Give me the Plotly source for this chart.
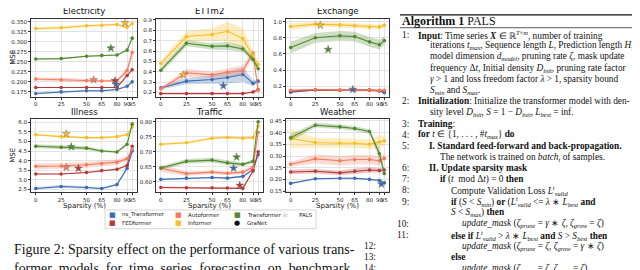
import plotly.graph_objects as go

W, H = 640, 270

# ---------------- data ----------------
sparsity = [0, 25, 50, 65, 80, 90, 95]
sparsity_ticks = ["0", "25", "50", "65", "80", "90", "95"]
models = ["ns_Transformer", "FEDformer", "Autoformer", "Informer", "Transformer"]
colors = {"ns_Transformer": "#3b6db5", "FEDformer": "#b83a36", "Autoformer": "#f87a5c",
          "Informer": "#fbbd22", "Transformer": "#4f8a2c"}

electricity_mean = {
    "ns_Transformer": [0.171, 0.175, 0.178, 0.178, 0.181, 0.189, 0.200],
    "FEDformer": [0.186, 0.186, 0.186, 0.186, 0.186, 0.216, 0.230],
    "Autoformer": [0.207, 0.205, 0.203, 0.202, 0.203, 0.228, 0.273],
    "Informer": [0.333, 0.335, 0.340, 0.341, 0.343, 0.336, 0.345],
    "Transformer": [0.257, 0.258, 0.264, 0.266, 0.267, 0.279, 0.309]}
electricity_std = {
    "ns_Transformer": [0.002, 0.003, 0.002, 0.002, 0.002, 0.002, 0.003],
    "FEDformer": [0.001, 0.001, 0.001, 0.001, 0.001, 0.002, 0.002],
    "Autoformer": [0.003, 0.005, 0.004, 0.003, 0.003, 0.008, 0.012],
    "Informer": [0.003, 0.004, 0.003, 0.002, 0.003, 0.004, 0.003],
    "Transformer": [0.002, 0.002, 0.002, 0.002, 0.002, 0.003, 0.003]}

ettm2_mean = {
    "ns_Transformer": [0.245, 0.31, 0.325, 0.345, 0.375, 0.29, 0.31],
    "FEDformer": [0.19, 0.19, 0.19, 0.19, 0.19, 0.205, 0.23],
    "Autoformer": [0.235, 0.39, 0.37, 0.395, 0.41, 0.58, 0.22],
    "Informer": [0.48, 0.74, 0.76, 0.79, 0.72, 0.56, 0.47],
    "Transformer": [0.415, 0.675, 0.645, 0.65, 0.62, 0.52, 0.43]}
ettm2_std = {
    "ns_Transformer": [0.015, 0.03, 0.04, 0.06, 0.07, 0.03, 0.02],
    "FEDformer": [0.005, 0.005, 0.005, 0.005, 0.005, 0.01, 0.01],
    "Autoformer": [0.015, 0.04, 0.03, 0.04, 0.05, 0.03, 0.02],
    "Informer": [0.03, 0.05, 0.06, 0.09, 0.1, 0.05, 0.03],
    "Transformer": [0.03, 0.03, 0.03, 0.04, 0.03, 0.03, 0.02]}

exchange_mean = {
    "ns_Transformer": [0.125, 0.155, 0.15, 0.15, 0.155, 0.14, 0.12],
    "FEDformer": [0.14, 0.155, 0.15, 0.15, 0.15, 0.145, 0.145],
    "Autoformer": [0.15, 0.16, 0.155, 0.155, 0.155, 0.15, 0.15],
    "Informer": [0.94, 0.97, 0.96, 0.95, 0.935, 0.935, 0.955],
    "Transformer": [0.68, 0.80, 0.825, 0.815, 0.75, 0.715, 0.765]}
exchange_std = {
    "ns_Transformer": [0.01, 0.01, 0.01, 0.01, 0.01, 0.01, 0.01],
    "FEDformer": [0.01, 0.01, 0.01, 0.01, 0.01, 0.01, 0.01],
    "Autoformer": [0.01, 0.01, 0.01, 0.01, 0.01, 0.01, 0.01],
    "Informer": [0.04, 0.03, 0.03, 0.03, 0.03, 0.03, 0.03],
    "Transformer": [0.07, 0.06, 0.06, 0.06, 0.06, 0.06, 0.05]}

illness_mean = {
    "ns_Transformer": [2.55, 2.65, 2.6, 2.55, 2.75, 3.6, 4.5],
    "FEDformer": [3.3, 3.3, 3.38, 3.48, 3.55, 3.75, 4.75],
    "Autoformer": [3.7, 3.72, 3.78, 3.85, 3.92, 4.1, 4.6],
    "Informer": [5.35, 5.25, 5.2, 5.2, 5.25, 5.35, 5.75],
    "Transformer": [4.75, 4.7, 4.65, 4.5, 4.45, 4.85, 5.9]}
illness_std = {
    "ns_Transformer": [0.06, 0.08, 0.05, 0.05, 0.06, 0.1, 0.1],
    "FEDformer": [0.03, 0.03, 0.04, 0.04, 0.05, 0.06, 0.08],
    "Autoformer": [0.15, 0.15, 0.15, 0.15, 0.15, 0.12, 0.1],
    "Informer": [0.05, 0.05, 0.05, 0.05, 0.05, 0.06, 0.08],
    "Transformer": [0.1, 0.1, 0.1, 0.06, 0.05, 0.08, 0.1]}

traffic_mean = {
    "ns_Transformer": [0.608, 0.612, 0.614, 0.612, 0.618, 0.64, 0.69],
    "FEDformer": [0.581, 0.58, 0.58, 0.579, 0.578, 0.636, 0.70],
    "Autoformer": [0.645, 0.627, 0.632, 0.628, 0.632, 0.648, 0.765],
    "Informer": [0.725, 0.73, 0.745, 0.748, 0.745, 0.747, 0.785],
    "Transformer": [0.646, 0.668, 0.672, 0.663, 0.658, 0.668, 0.80]}
traffic_std = {
    "ns_Transformer": [0.003, 0.003, 0.003, 0.003, 0.003, 0.003, 0.003],
    "FEDformer": [0.003, 0.003, 0.003, 0.003, 0.003, 0.003, 0.003],
    "Autoformer": [0.012, 0.008, 0.006, 0.006, 0.006, 0.006, 0.008],
    "Informer": [0.004, 0.004, 0.004, 0.004, 0.004, 0.004, 0.004],
    "Transformer": [0.006, 0.008, 0.008, 0.008, 0.006, 0.006, 0.006]}

weather_mean = {
    "ns_Transformer": [0.183, 0.203, 0.205, 0.205, 0.2, 0.195, 0.185],
    "FEDformer": [0.232, 0.235, 0.228, 0.235, 0.24, 0.238, 0.24],
    "Autoformer": [0.265, 0.288, 0.28, 0.285, 0.285, 0.28, 0.29],
    "Informer": [0.375, 0.358, 0.355, 0.355, 0.35, 0.36, 0.365],
    "Transformer": [0.378, 0.432, 0.425, 0.418, 0.405, 0.31, 0.225]}
weather_std = {
    "ns_Transformer": [0.003, 0.003, 0.003, 0.003, 0.003, 0.003, 0.003],
    "FEDformer": [0.01, 0.01, 0.01, 0.012, 0.012, 0.01, 0.01],
    "Autoformer": [0.01, 0.02, 0.02, 0.02, 0.02, 0.02, 0.02],
    "Informer": [0.04, 0.02, 0.02, 0.02, 0.02, 0.03, 0.02],
    "Transformer": [0.015, 0.01, 0.01, 0.01, 0.01, 0.02, 0.02]}

# PALS results (stars)
pals_electricity = {"model": ["Informer", "Transformer", "Autoformer", "FEDformer", "ns_Transformer"],
                    "sparsity": [88, 74, 57, 78, 79], "mse": [0.347, 0.284, 0.205, 0.203, 0.194]}
pals_ettm2 = {"model": ["Informer", "ns_Transformer"], "sparsity": [22, 61], "mse": [0.37, 0.265]}
pals_exchange = {"model": ["Informer", "Transformer", "ns_Transformer"], "sparsity": [30, 38, 63], "mse": [0.955, 0.655, 0.16]}
pals_illness = {"model": ["Informer", "Transformer", "Autoformer", "FEDformer"], "sparsity": [30, 35, 30, 42], "mse": [5.4, 4.72, 3.65, 3.6]}
pals_traffic = {"model": ["Transformer", "ns_Transformer", "FEDformer"], "sparsity": [74, 71, 77], "mse": [0.682, 0.645, 0.588]}
pals_weather = {"model": ["ns_Transformer"], "sparsity": [92], "mse": [0.18]}

panels = [
    ("Electricity", electricity_mean, electricity_std, pals_electricity, [0.163, 0.357], [0.175, 0.2, 0.225, 0.25, 0.275, 0.3, 0.325, 0.35], ".3f"),
    ("ETTm2", ettm2_mean, ettm2_std, pals_ettm2, [0.16, 0.91], [0.2, 0.3, 0.4, 0.5, 0.6, 0.7, 0.8, 0.9], ".1f"),
    ("Exchange", exchange_mean, exchange_std, pals_exchange, [0.07, 1.035], [0.2, 0.4, 0.6, 0.8, 1.0], ".1f"),
    ("Illness", illness_mean, illness_std, pals_illness, [2.35, 6.15], [2.5, 3.0, 3.5, 4.0, 4.5, 5.0, 5.5, 6.0], ".1f"),
    ("Traffic", traffic_mean, traffic_std, pals_traffic, [0.565, 0.808], [0.6, 0.65, 0.7, 0.75, 0.8], ".2f"),
    ("Weather", weather_mean, weather_std, pals_weather, [0.145, 0.457], [0.15, 0.2, 0.25, 0.3, 0.35, 0.4, 0.45], ".2f"),
]

# ---------------- layout helpers (pixel -> paper) ----------------
def px(x):
    return x / W

def py(y):
    return 1 - y / H

col_x = [(23, 129), (148, 255), (278, 381)]
row_y = [(9, 88), (111, 185)]

def rgba(hexc, a):
    h = hexc.lstrip("#")
    return "rgba(%d,%d,%d,%.2f)" % (int(h[0:2], 16), int(h[2:4], 16), int(h[4:6], 16), a)

fig = go.Figure()
annotations = []
shapes = []
tick_font = dict(family="DejaVu Sans", size=5.5, color="#222")

for i, (title, mean, std, pals, yr, yt, fmt) in enumerate(panels):
    r, c = divmod(i, 3)
    xa = "x" if i == 0 else "x%d" % (i + 1)
    ya = "y" if i == 0 else "y%d" % (i + 1)
    for m in models:
        mu = mean[m]
        sd = std[m]
        up = [a + b for a, b in zip(mu, sd)]
        lo = [a - b for a, b in zip(mu, sd)]
        fig.add_trace(go.Scatter(x=sparsity + sparsity[::-1], y=up + lo[::-1], fill="toself",
                                 fillcolor=rgba(colors[m], 0.28), line=dict(width=0), mode="lines",
                                 hoverinfo="skip", showlegend=False, xaxis=xa, yaxis=ya))
        fig.add_trace(go.Scatter(x=sparsity, y=mu, mode="lines+markers", name=m,
                                 line=dict(color=colors[m], width=1.1),
                                 marker=dict(size=3.6, color=colors[m]),
                                 showlegend=False, xaxis=xa, yaxis=ya))
    fig.add_trace(go.Scatter(x=pals["sparsity"], y=pals["mse"], mode="markers", name="PALS",
                             marker=dict(symbol="star", size=6, color=[colors[m] for m in pals["model"]],
                                         line=dict(width=0.4, color="#666")),
                             showlegend=False, xaxis=xa, yaxis=ya))
    x0, x1 = col_x[c]
    y0, y1 = row_y[r]
    axis_common = dict(showline=True, linecolor="#333", linewidth=0.8, mirror=True,
                       showgrid=True, gridcolor="#e3e3e3", gridwidth=0.8, zeroline=False,
                       ticks="outside", ticklen=2, tickwidth=0.7, tickcolor="#333", tickfont=tick_font,
                       tickangle=0)
    fig.layout["xaxis" if i == 0 else "xaxis%d" % (i + 1)] = dict(
        domain=[px(x0), px(x1)], anchor=ya, range=[-4.75, 99.75],
        tickvals=sparsity, ticktext=sparsity_ticks, **axis_common)
    fig.layout["yaxis" if i == 0 else "yaxis%d" % (i + 1)] = dict(
        domain=[py(y1), py(y0)], anchor=xa, range=yr, tickvals=yt, tickformat=fmt, **axis_common)
    annotations.append(dict(text=title, x=px((x0 + x1) / 2), y=py(y0 - 0.5), xref="paper", yref="paper",
                            xanchor="center", yanchor="bottom", showarrow=False,
                            font=dict(family="DejaVu Sans", size=8.5, color="#111")))
    if c == 0:
        annotations.append(dict(text="MSE", x=px(5), y=py((y0 + y1) / 2), xref="paper", yref="paper",
                                textangle=-90, showarrow=False, xanchor="center", yanchor="middle",
                                font=dict(family="DejaVu Sans", size=7, color="#111")))
    if r == 1:
        annotations.append(dict(text="Sparsity (%)", x=px((x0 + x1) / 2), y=py(198.5), xref="paper", yref="paper",
                                showarrow=False, xanchor="center", yanchor="middle",
                                font=dict(family="DejaVu Sans", size=7, color="#111")))

# ---------------- legend (drawn) ----------------
shapes.append(dict(type="rect", xref="paper", yref="paper", x0=px(97), x1=px(308), y0=py(222), y1=py(203),
                   line=dict(color="#cccccc", width=0.8), fillcolor="white"))
legend_entries = [("■", colors["ns_Transformer"], "ns_Transformer", 104, 208),
                  ("■", colors["FEDformer"], "FEDformer", 104, 216.5),
                  ("■", colors["Autoformer"], "Autoformer", 170, 208),
                  ("■", colors["Informer"], "Informer", 170, 216.5),
                  ("■", colors["Transformer"], "Transformer", 229, 208),
                  ("●", "#111111", "GraNet", 229, 216.5),
                  ("☆", "#333333", "PALS", 277, 208)]
for sym, col, lab, lx, ly in legend_entries:
    annotations.append(dict(text=sym, x=px(lx), y=py(ly), xref="paper", yref="paper", showarrow=False,
                            xanchor="center", yanchor="middle", font=dict(family="DejaVu Sans", size=7, color=col)))
    annotations.append(dict(text=lab, x=px(lx + 8 if sym != "☆" else lx + 12), y=py(ly), xref="paper", yref="paper",
                            showarrow=False, xanchor="left", yanchor="middle",
                            font=dict(family="DejaVu Sans", size=5.5, color="#222")))

# ---------------- caption ----------------
serif = "Liberation Serif"
caption_lines = ["Figure 2: Sparsity effect on the performance of various trans-",
                 "former\u00a0 models\u00a0 for\u00a0 time\u00a0 series\u00a0 forecasting\u00a0 on\u00a0 benchmark"]
for k, t in enumerate(caption_lines):
    annotations.append(dict(text=t, x=px(4), y=py(243 + 19 * k), xref="paper", yref="paper", showarrow=False,
                            xanchor="left", yanchor="middle", font=dict(family=serif, size=13.9, color="#111")))

# ---------------- algorithm box ----------------
shapes.append(dict(type="line", xref="paper", yref="paper", x0=px(392), x1=px(640), y0=py(5), y1=py(5),
                   line=dict(color="#111", width=1.3)))
shapes.append(dict(type="line", xref="paper", yref="paper", x0=px(392), x1=px(640), y0=py(18), y1=py(18),
                   line=dict(color="#111", width=0.7)))
annotations.append(dict(text="<b>Algorithm 1</b> PALS", x=px(392), y=py(11.5), xref="paper", yref="paper",
                        showarrow=False, xanchor="left", yanchor="middle", font=dict(family=serif, size=12, color="#111")))

algo_size = 9.3
algo_lines = [
    ("1:", 403, 408, "<b>Input</b>: Time series <b><i>X</i></b> ∈ ℝ<sup><i>T</i>×<i>m</i></sup>, number of training"),
    ("", 403, 420, "iterations <i>t<sub>max</sub></i>, Sequence length <i>L</i>, Prediction length <i>H</i>,"),
    ("", 403, 420, "model dimension <i>d<sub>model</sub></i>, pruning rate <i>ζ</i>, mask update"),
    ("", 403, 420, "frequency Δ<i>t</i>, Initial density <i>D<sub>init</sub></i>, pruning rate factor"),
    ("", 403, 420, "<i>γ</i> > 1 and loss freedom factor <i>λ</i> > 1, sparsity bound"),
    ("", 403, 420, "<i>S<sub>min</sub></i> and <i>S<sub>max</sub></i>."),
    ("2:", 403, 408, "<b>Initialization</b>: Initialize the transformer model with den-"),
    ("", 403, 420, "sity level <i>D<sub>init</sub></i>, <i>S</i> = 1 − <i>D<sub>init</sub></i>, <i>L<sub>best</sub></i> = inf."),
    ("3:", 403, 408, "<b>Training</b>:"),
    ("4:", 403, 408, "<b>for</b> <i>t</i> ∈ {1, . . . , #<i>t<sub>max</sub></i>} <b>do</b>"),
    ("5:", 403, 419, "<b>I. Standard feed-forward and back-propagation.</b>"),
    ("", 403, 430, "The network is trained on <i>batch<sub>t</sub></i> of samples."),
    ("6:", 403, 419, "<b>II. Update sparsity mask</b>"),
    ("7:", 403, 430, "<b>if</b> (<i>t</i>  mod Δ<i>t</i>) = 0 <b>then</b>"),
    ("8:", 403, 441, "Compute Validation Loss <i>L<sup>t</sup><sub>valid</sub></i>"),
    ("9:", 403, 441, "<b>if</b> (<i>S</i> < <i>S<sub>min</sub></i>) <b>or</b> (<i>L<sup>t</sup><sub>valid</sub></i> <= <i>λ</i> ∗ <i>L<sub>best</sub></i> <b>and</b>"),
    ("", 403, 441, "<i>S</i> < <i>S<sub>max</sub></i>) <b>then</b>"),
    ("10:", 403, 452, "<i>update_mask</i> (<i>ζ<sub>prune</sub></i> = <i>γ</i> ∗ <i>ζ</i>, <i>ζ<sub>grow</sub></i> = <i>ζ</i>)"),
    ("11:", 403, 441, "<b>else if</b> <i>L<sup>t</sup><sub>valid</sub></i> > <i>λ</i> ∗ <i>L<sub>best</sub></i> <b>and</b> <i>S</i> > <i>S<sub>best</sub></i> <b>then</b>"),
    ("12:", 370, 452, "<i>update_mask</i> (<i>ζ<sub>prune</sub></i> = <i>ζ</i>, <i>ζ<sub>grow</sub></i> = <i>γ</i> ∗ <i>ζ</i>)"),
    ("13:", 370, 441, "<b>else</b>"),
    ("14:", 370, 452, "<i>update_mask</i> (<i>ζ<sub>prune</sub></i> = <i>ζ</i>, <i>ζ<sub>grow</sub></i> = <i>ζ</i>)"),
]
for k, (num, nx, tx, txt) in enumerate(algo_lines):
    yy = 25 + 11.3 * k
    if num:
        annotations.append(dict(text=num, x=px(nx), y=py(yy), xref="paper", yref="paper", showarrow=False,
                                xanchor="right", yanchor="middle", font=dict(family=serif, size=algo_size, color="#111")))
    annotations.append(dict(text=txt, x=px(tx), y=py(yy), xref="paper", yref="paper", showarrow=False,
                            xanchor="left", yanchor="middle", font=dict(family=serif, size=algo_size, color="#111")))

fig.update_layout(width=W, height=H, margin=dict(l=0, r=0, t=0, b=0), paper_bgcolor="white",
                  plot_bgcolor="white", showlegend=False, annotations=annotations, shapes=shapes)
fig.write_html("out.html")
